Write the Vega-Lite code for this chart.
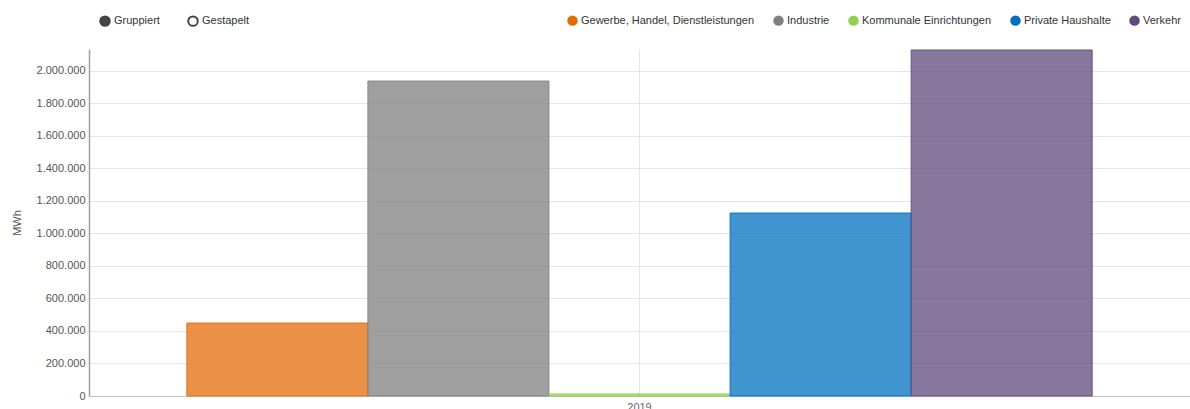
{
  "$schema": "https://vega.github.io/schema/vega-lite/v6.json",
  "width": 1101,
  "height": 347,
  "autosize": {"type": "none"},
  "padding": {"left": 89, "top": 49, "right": 0, "bottom": 13},
  "background": "#ffffff",
  "config": {
    "font": "Liberation Sans",
    "view": {"stroke": null},
    "legend": {"padding": 0, "labelFont": "Liberation Sans", "labelFontSize": 11, "labelColor": "#333333", "labelOffset": 3, "labelLimit": 400, "titleFontSize": 0}
  },
  "datasets": {
    "bars": [
      {"Jahr": "2019", "Sektor": "Gewerbe, Handel, Dienstleistungen", "MWh": 449000},
      {"Jahr": "2019", "Sektor": "Industrie", "MWh": 1938000},
      {"Jahr": "2019", "Sektor": "Kommunale Einrichtungen", "MWh": 13000},
      {"Jahr": "2019", "Sektor": "Private Haushalte", "MWh": 1126000},
      {"Jahr": "2019", "Sektor": "Verkehr", "MWh": 2129000}
    ],
    "modus": [
      {"Modus": "Gruppiert"},
      {"Modus": "Gestapelt"}
    ]
  },
  "layer": [
    {
      "data": {"name": "bars"},
      "mark": {"type": "bar", "fillOpacity": 0.75, "strokeWidth": 1, "strokeOpacity": 0.85},
      "encoding": {
        "x": {
          "field": "Jahr", "type": "nominal",
          "scale": {"paddingInner": 0, "paddingOuter": 0.108},
          "axis": {
            "title": null, "ticks": false, "labelAngle": 0, "labelPadding": 5,
            "labelFontSize": 11, "labelColor": "#666666",
            "domainColor": "#c0c0c0", "domainWidth": 1,
            "grid": true, "gridColor": "#e6e6e6", "bandPosition": 0.5
          }
        },
        "xOffset": {
          "field": "Sektor", "type": "nominal",
          "scale": {"paddingInner": 0, "paddingOuter": 0},
          "sort": ["Gewerbe, Handel, Dienstleistungen", "Industrie", "Kommunale Einrichtungen", "Private Haushalte", "Verkehr"]
        },
        "y": {
          "field": "MWh", "type": "quantitative",
          "scale": {"domain": [0, 2135000], "nice": false, "zero": true},
          "axis": {
            "title": "MWh", "titleFontSize": 11, "titleFontWeight": "normal", "titleColor": "#555555",
            "titleX": -72, "titleY": 173.5, "titleAngle": -90, "titleAlign": "center", "titleBaseline": "middle",
            "values": [0, 200000, 400000, 600000, 800000, 1000000, 1200000, 1400000, 1600000, 1800000, 2000000],
            "labelExpr": "replace(format(datum.value, ','), /,/g, '.')",
            "labelFontSize": 11, "labelColor": "#555555", "labelPadding": 4,
            "ticks": false, "domainColor": "#a0a0a0", "domainWidth": 1.5,
            "grid": true, "gridColor": "#e6e6e6"
          }
        },
        "color": {
          "field": "Sektor", "type": "nominal",
          "sort": ["Gewerbe, Handel, Dienstleistungen", "Industrie", "Kommunale Einrichtungen", "Private Haushalte", "Verkehr"],
          "scale": {
            "domain": ["Gewerbe, Handel, Dienstleistungen", "Industrie", "Kommunale Einrichtungen", "Private Haushalte", "Verkehr"],
            "range": ["#e36c09", "#7f7f7f", "#92d050", "#0070c0", "#604a7b"]
          },
          "legend": {
            "title": null, "orient": "none", "direction": "horizontal",
            "legendX": 478, "legendY": -34,
            "symbolType": "circle", "symbolSize": 110, "symbolOpacity": 1, "symbolStrokeWidth": 0,
            "columnPadding": 18
          }
        },
        "stroke": {
          "field": "Sektor", "type": "nominal",
          "scale": {
            "domain": ["Gewerbe, Handel, Dienstleistungen", "Industrie", "Kommunale Einrichtungen", "Private Haushalte", "Verkehr"],
            "range": ["#e36c09", "#7f7f7f", "#92d050", "#0070c0", "#604a7b"]
          },
          "legend": null
        }
      }
    },
    {
      "data": {"name": "modus"},
      "mark": {"type": "point", "filled": true, "opacity": 0, "size": 0},
      "encoding": {
        "fill": {
          "field": "Modus", "type": "nominal",
          "scale": {"domain": ["Gruppiert", "Gestapelt"], "range": ["#444444", "#ffffff"]},
          "legend": {
            "title": null, "orient": "none", "direction": "horizontal",
            "legendX": 10, "legendY": -34,
            "symbolType": "circle", "symbolSize": 90, "symbolOpacity": 1,
            "symbolStrokeColor": "#444444", "symbolStrokeWidth": 2,
            "columnPadding": 24
          }
        }
      }
    }
  ]
}
